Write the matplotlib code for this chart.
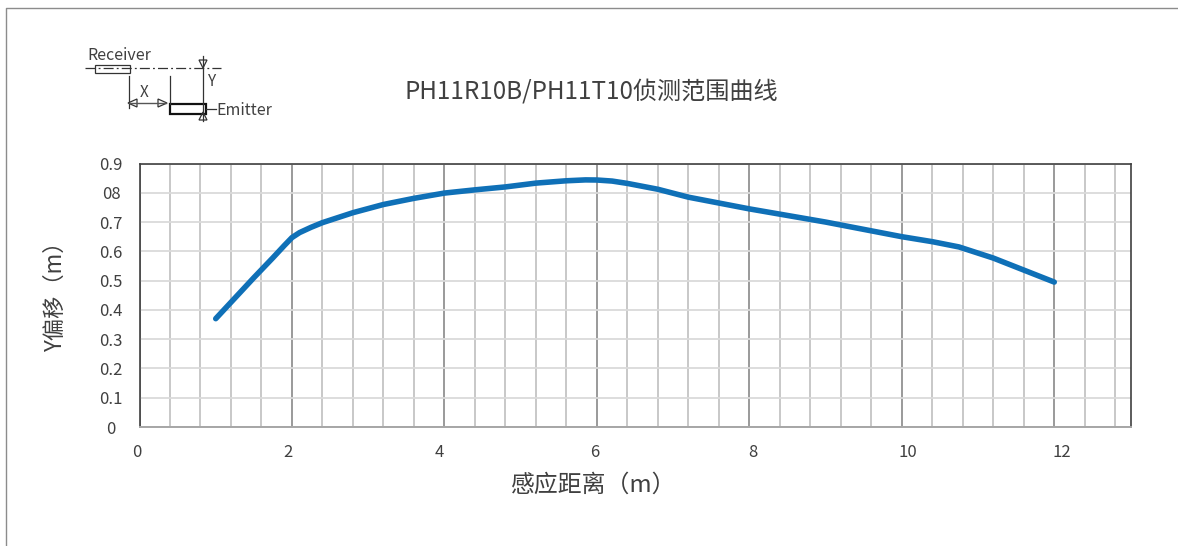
import matplotlib
matplotlib.use("Agg")
import matplotlib.pyplot as plt
from matplotlib.transforms import ScaledTranslation

plt.rcParams['font.family'] = ['Noto Sans CJK SC', 'DejaVu Sans']

W, H = 1178, 546
title = "PH11R10B/PH11T10侦测范围曲线"
xlabel = "感应距离（m）"
ylabel = "Y偏移（m）"
x_ticks = [0, 2, 4, 6, 8, 10, 12]
x_label_nudge_px = [-3, -4, -5, -2, 4, 6.5, 8]
y_ticks = [0, 0.1, 0.2, 0.3, 0.4, 0.5, 0.6, 0.7, 0.8, 0.9]
y_tick_labels = ["0", "0.1", "0.2", "0.3", "0.4", "0.5", "0.6", "0.7", "08", "0.9"]
x_minor = [i * 0.4 for i in range(33)]
dist = [1.0, 1.25, 1.5, 1.75, 1.9, 2.0, 2.1, 2.25, 2.4, 2.8, 3.2, 3.6, 4.0, 4.4, 4.8, 5.2, 5.6, 5.85, 6.0, 6.2, 6.4, 6.8, 7.2, 8.0, 9.0, 10.0, 10.4, 10.75, 11.2, 11.6, 12.0]
offset = [0.37, 0.44, 0.51, 0.578, 0.62, 0.647, 0.664, 0.682, 0.698, 0.732, 0.76, 0.781, 0.799, 0.81, 0.82, 0.833, 0.841, 0.844, 0.8436, 0.84, 0.832, 0.812, 0.785, 0.745, 0.70, 0.65, 0.633, 0.615, 0.577, 0.536, 0.495]

fig = plt.figure(figsize=(W / 100, H / 100), dpi=100, facecolor='white')
TC = '#404040'

# page frame and schematic in pixel coordinates
bg = fig.add_axes([0, 0, 1, 1])
bg.set_xlim(0, W); bg.set_ylim(H, 0); bg.axis('off')
bg.plot([6, 6, W], [H, 8, 8], color='#8c8c8c', lw=1)

ink = '#333333'
bg.plot([85, 221], [68, 68], color=ink, lw=0.9, ls=(0, (8, 2.5, 1.5, 2.5)))
bg.add_patch(plt.Rectangle((94.5, 64.5), 35, 8, fill=False, ec=ink, lw=0.9))
bg.add_patch(plt.Rectangle((170, 103.5), 35.5, 10.5, fill=False, ec='#111111', lw=1.6))
bg.plot([129, 129], [76, 108], color=ink, lw=0.9)
bg.plot([169.5, 169.5], [76, 104], color=ink, lw=0.9)
bg.plot([203, 203], [56, 121], color=ink, lw=0.9)
bg.plot([129, 166], [103, 103], color='#555555', lw=1.0)
bg.plot([206, 216], [109, 109], color=ink, lw=0.9)
for pts in ([(128, 103), (137, 99), (137, 107)], [(167, 103), (158, 99), (158, 107)],
            [(203, 68), (199, 60), (207, 60)], [(203, 112), (199, 120), (207, 120)]):
    bg.add_patch(plt.Polygon(pts, closed=True, fill=False, ec=ink, lw=0.9))
bg.text(87.5, 56, "Receiver", fontsize=11.5, color=TC, va='center', ha='left')
bg.text(216, 110.5, "Emitter", fontsize=11.5, color=TC, va='center', ha='left')
bg.text(144.5, 92.5, "X", fontsize=11, color=TC, va='center', ha='center')
bg.text(212, 81, "Y", fontsize=11, color=TC, va='center', ha='center')
bg.text(591.5, 91.5, title, fontsize=17.4, color=TC, va='center', ha='center')

# chart
L, R, T, B = 139.5, 1130.5, 163.5, 427
ax = fig.add_axes([L / W, 1 - B / H, (R - L) / W, (B - T) / H])
ax.set_xlim(0, 13); ax.set_ylim(0, 0.9)
ax.set_xticks(x_minor, minor=True)
ax.set_xticks(x_ticks)
ax.set_xticklabels([str(v) for v in x_ticks], fontsize=12, color=TC)
ax.set_yticks(y_ticks)
ax.set_yticklabels(y_tick_labels, fontsize=12, color=TC, ha='center')
ax.tick_params(which='both', length=0)
ax.tick_params(axis='x', pad=12)
ax.tick_params(axis='y', pad=20.5)
for lbl, dx in zip(ax.get_xticklabels(), x_label_nudge_px):
    lbl.set_transform(lbl.get_transform() + ScaledTranslation(dx / 100, 0, fig.dpi_scale_trans))
ax.grid(True, which='minor', axis='x', color='#c4c4c4', lw=1.3)
ax.grid(True, which='major', axis='x', color='#9a9a9a', lw=1.4)
ax.grid(True, which='major', axis='y', color='#dadada', lw=1.3)
ax.set_axisbelow(True)
for s in ('top', 'left', 'right'):
    ax.spines[s].set_color('#404040'); ax.spines[s].set_linewidth(1.2)
ax.spines['bottom'].set_color('#a6a6a6'); ax.spines['bottom'].set_linewidth(1.4)
ax.plot(dist, offset, color='#0f70b7', lw=4.0, solid_capstyle='round', solid_joinstyle='round')

fig.text(594 / W, 1 - 485 / H, xlabel, fontsize=17.2, color=TC, ha='center', va='center')
fig.text(55 / W, 1 - 291 / H, ylabel, fontsize=16, color=TC, ha='center', va='center', rotation=90)

fig.savefig('out.png', dpi=100, facecolor='white')
